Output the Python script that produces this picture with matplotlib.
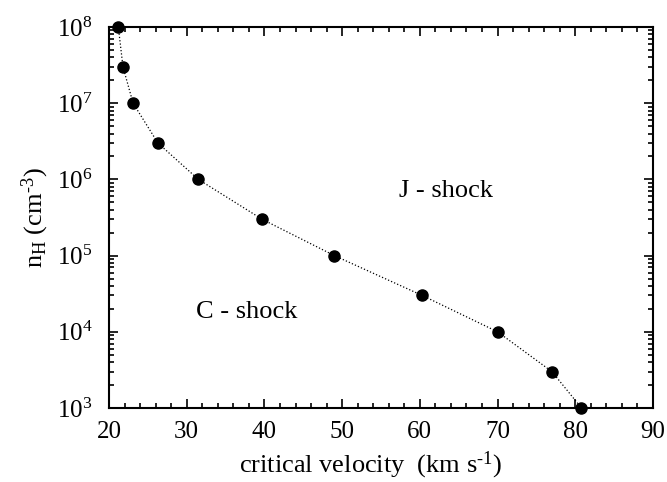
import numpy as np
import matplotlib
matplotlib.use("Agg")
import matplotlib.pyplot as plt
from matplotlib.ticker import MultipleLocator, LogLocator, NullFormatter

plt.rcParams['font.family'] = ['Liberation Serif', 'DejaVu Serif']
plt.rcParams['mathtext.fontset'] = 'custom'
plt.rcParams['mathtext.rm'] = 'Liberation Serif'
plt.rcParams['mathtext.it'] = 'Liberation Serif:italic'

# critical velocity (km/s) vs density n_H (cm^-3)
velocity = [21.2, 21.8, 23.1, 26.3, 31.5, 39.7, 49.0, 60.3, 70.0, 77.0, 80.8]
density = [1e8, 3e7, 1e7, 3e6, 1e6, 3e5, 1e5, 3e4, 1e4, 3e3, 1e3]

fig = plt.figure(figsize=(6.67, 4.82), dpi=100)
ax = fig.add_axes([0.1634, 0.1535, 0.8156, 0.7905])

ax.plot(velocity, density, ':', color='black', lw=0.9)
ax.plot(velocity, density, 'o', color='black', ms=8, clip_on=False)

ax.set_yscale('log')
ax.set_xlim(20, 90)
ax.set_ylim(1e3, 1e8)
ax.xaxis.set_major_locator(MultipleLocator(10))
ax.xaxis.set_minor_locator(MultipleLocator(2))
ax.yaxis.set_major_locator(LogLocator(base=10, numticks=10))
ax.yaxis.set_minor_locator(LogLocator(base=10, subs=np.arange(2, 10), numticks=20))
ax.yaxis.set_minor_formatter(NullFormatter())

ax.tick_params(which='both', direction='in', top=True, right=True, width=1.2)
ax.tick_params(which='major', length=6.5, labelsize=18)
ax.tick_params(which='minor', length=3.5)
ax.tick_params(axis='x', pad=9)
ax.tick_params(axis='y', pad=12)
for s in ax.spines.values():
    s.set_linewidth(1.5)

ax.set_xlabel('critical velocity  (km s$^{\u20101}$)', fontsize=19)
ax.xaxis.set_label_coords(0.48, -0.108)
ax.set_ylabel('n$_{\\rm H}$ (cm$^{\u20103}$)', fontsize=19, labelpad=4)

ax.text(63.4, 10**5.85, 'J - shock', fontsize=19, ha='center', va='center')
ax.text(37.7, 10**4.26, 'C - shock', fontsize=19, ha='center', va='center')

fig.savefig('out.png', dpi=100)
